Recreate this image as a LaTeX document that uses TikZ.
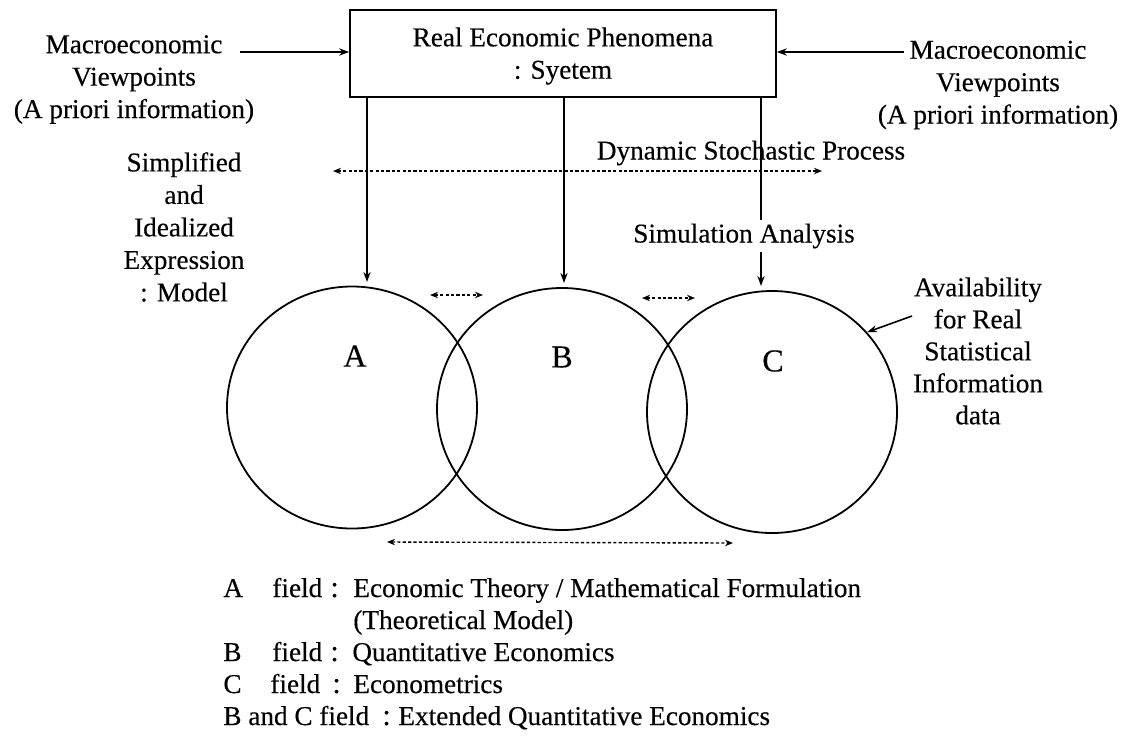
\documentclass[tikz,border=0pt]{standalone}
\usepackage{fontspec}
\setmainfont{Liberation Serif}[UprightFeatures={FakeBold=0.3}]
\usetikzlibrary{arrows.meta,shapes.geometric}
\begin{document}
\begin{tikzpicture}[x=0.5pt,y=-0.5pt,
  every node/.style={inner sep=0pt, font=\fontsize{13.6}{16.2}\selectfont},
  lbl/.style={align=center},
  ln/.style={line width=0.8pt},
  arr/.style={ln, -{Stealth[length=5pt,width=3.6pt]}},
  darr/.style={line width=0.7pt, dash pattern=on 1.6pt off 1.1pt, {Stealth[length=4pt,width=3.2pt]}-{Stealth[length=4pt,width=3.2pt]}},
  fld/.style={draw, ellipse, line width=0.9pt, minimum width=125pt, minimum height=121pt},
  big/.style={font=\fontsize{16}{19}\selectfont},
  leg/.style={anchor=base west},
  colon/.style={anchor=base west, font=\fontsize{15}{16}\selectfont}
]
\useasboundingbox (0,0) rectangle (1123,735);

% top box
\node[draw, ln, minimum width=213pt, minimum height=43.5pt] (sys) at (563,53.5) {};
\node[lbl] (systxt) at (563,56) {Real Economic Phenomena\\: Syetem};

% side labels
\node[lbl] (ML) at (134,79.5) {Macroeconomic\\Viewpoints\\(A priori information)};
\node[lbl] (MR) at (998,85) {Macroeconomic\\Viewpoints\\(A priori information)};
\coordinate (la) at (240,52);
\draw[arr] (la) -- (la -| sys.west);
\coordinate (ra) at (904,52);
\draw[arr] (ra) -- (ra -| sys.east);

% fields
\node[fld] (A) at (352,407.5) {};
\node[fld] (B) at (562,409) {};
\node[fld] (C) at (772,412) {};
\node[big] (lA) at (355,356) {A};
\node[big] (lB) at (562,357) {B};
\node[big] (lC) at (773,361) {C};

% vertical arrows
\coordinate (tA) at (367,282);
\coordinate (tB) at (564,283);
\coordinate (tC) at (761,286);
\draw[arr] (sys.south -| tA) -- (tA);
\draw[arr] (sys.south -| tB) -- (tB);
\draw[arr] (sys.south -| tC) -- (tC);

% middle labels
\node[lbl, font=\fontsize{13.6}{16.25}\selectfont] (SM) at (184,227) {Simplified\\and\\Idealized\\Expression\\: Model};
\node (DSP) at (751,153) {Dynamic Stochastic Process};
\coordinate (dl) at (333,171);
\coordinate (dr) at (822,171);
\draw[darr] (dl) -- (dr);
\node[fill=white, inner ysep=2pt, inner xsep=1pt] (SIM) at (744,236) {Simulation Analysis};

% small dotted arrows
\coordinate (s1l) at (430,295);
\coordinate (s1r) at (483,295);
\draw[darr] (s1l) -- (s1r);
\coordinate (s2l) at (642,298);
\coordinate (s2r) at (695,298);
\draw[darr] (s2l) -- (s2r);
\coordinate (bl) at (387,542);
\coordinate (br) at (733,543);
\draw[darr] (bl) -- (br);

% availability
\node[lbl, font=\fontsize{13.6}{16}\selectfont] (AV) at (978,351) {Availability\\for Real\\Statistical\\Information\\data};
\coordinate (avs) at (912,316);
\draw[arr] (avs) -- (C.40);

% legend
\node[leg] (g1a) at (223,597) {A};
\node[leg] (g1b) at (272,597) {field};
\node[colon] (g1c) at (330,597) {:};
\node[leg] (g1d) at (353,597) {Economic Theory / Mathematical Formulation};
\node[leg] (g1e) at (353,629) {(Theoretical Model)};
\node[leg] (g2a) at (223,661) {B};
\node[leg] (g2b) at (272,661) {field};
\node[colon] (g2c) at (330,661) {:};
\node[leg] (g2d) at (352,661) {Quantitative Economics};
\node[leg] (g3a) at (223,693) {C};
\node[leg] (g3b) at (270,693) {field};
\node[colon] (g3c) at (332,693) {:};
\node[leg] (g3d) at (353,693) {Econometrics};
\node[leg] (g4a) at (223,725) {B and C field};
\node[colon] (g4c) at (382,725) {:};
\node[leg] (g4d) at (398,725) {Extended Quantitative Economics};
\end{tikzpicture}
\end{document}
